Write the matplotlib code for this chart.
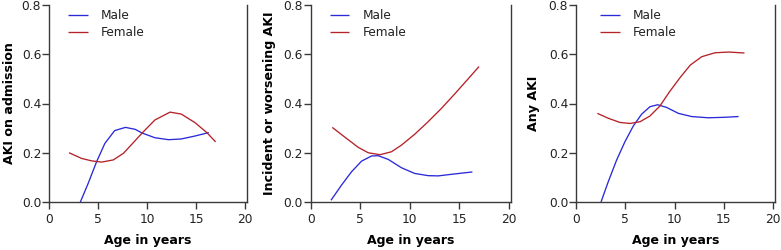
import matplotlib
matplotlib.use("Agg")
import matplotlib.pyplot as plt

plt.rcParams['font.family'] = ['DejaVu Sans']

# Panel 1: AKI on admission
p1_male_x = [3.2, 4.0, 4.86, 5.7, 6.7, 7.8, 8.8, 9.5, 10.8, 12.2, 13.5, 14.9, 16.3]
p1_male_y = [0.0, 0.076, 0.164, 0.238, 0.29, 0.303, 0.295, 0.28, 0.261, 0.253, 0.256, 0.268, 0.282]
p1_female_x = [2.04, 3.33, 4.35, 5.37, 6.57, 7.6, 8.6, 9.5, 10.8, 12.35, 13.5, 14.9, 16.1, 17.0]
p1_female_y = [0.2, 0.177, 0.167, 0.162, 0.171, 0.198, 0.241, 0.28, 0.333, 0.365, 0.357, 0.322, 0.282, 0.244]

# Panel 2: Incident or worsening AKI
p2_male_x = [2.05, 3.12, 4.13, 5.14, 6.15, 6.82, 7.83, 9.17, 10.5, 11.86, 12.87, 14.55, 16.33]
p2_male_y = [0.007, 0.069, 0.123, 0.166, 0.187, 0.188, 0.173, 0.139, 0.116, 0.107, 0.106, 0.114, 0.122]
p2_female_x = [2.18, 3.46, 4.8, 5.81, 6.99, 8.16, 9.17, 10.5, 11.86, 13.2, 14.55, 15.9, 17.0]
p2_female_y = [0.303, 0.263, 0.222, 0.2, 0.192, 0.204, 0.231, 0.275, 0.326, 0.38, 0.439, 0.5, 0.55]

# Panel 3: Any AKI
p3_male_x = [2.54, 3.28, 4.13, 4.97, 5.82, 6.67, 7.51, 8.29, 9.2, 10.39, 11.74, 13.43, 15.1, 16.5]
p3_male_y = [0.0, 0.083, 0.171, 0.245, 0.309, 0.357, 0.387, 0.395, 0.384, 0.36, 0.347, 0.342, 0.344, 0.347]
p3_female_x = [2.17, 3.28, 4.47, 5.48, 6.5, 7.5, 8.5, 9.5, 10.56, 11.6, 12.76, 14.1, 15.5, 17.1]
p3_female_y = [0.36, 0.34, 0.323, 0.319, 0.326, 0.349, 0.389, 0.448, 0.505, 0.556, 0.59, 0.606, 0.609, 0.605]

ylabels = ["AKI on admission", "Incident or worsening AKI", "Any AKI"]
xlabel = "Age in years"
series_labels = ["Male", "Female"]
xticks = [0, 5, 10, 15, 20]
yticks = [0.0, 0.2, 0.4, 0.6, 0.8]

panels = [
    (p1_male_x, p1_male_y, p1_female_x, p1_female_y),
    (p2_male_x, p2_male_y, p2_female_x, p2_female_y),
    (p3_male_x, p3_male_y, p3_female_x, p3_female_y),
]

W, H = 781, 250
fig = plt.figure(figsize=(W / 100, H / 100), dpi=100)

# axes rects in pixels: left, width
rects = [(49, 198), (310.7, 200), (576, 199)]
legend_off = [17, 17, 22]
ylab_x = [16.5, 276, 540]
bottom_px = 202
top_px = 5

blue = '#2a2ad8'
red = '#b52228'
spine_col = '#3a3a3a'

for i, (mx, my, fx, fy) in enumerate(panels):
    left, width = rects[i]
    ax = fig.add_axes([left / W, (H - bottom_px) / H, width / W, (bottom_px - top_px) / H])
    ax.plot(mx, my, color=blue, lw=0.95, label=series_labels[0],
            solid_joinstyle='round', solid_capstyle='butt')
    ax.plot(fx, fy, color=red, lw=0.95, label=series_labels[1],
            solid_joinstyle='round', solid_capstyle='butt')
    ax.set_xlim(0, 20.2)
    ax.set_ylim(0, 0.8)
    ax.set_xticks(xticks)
    ax.set_yticks(yticks)
    ax.set_yticklabels([f"{v:.1f}" for v in yticks])
    ax.spines['top'].set_visible(False)
    for s in ['left', 'bottom', 'right']:
        ax.spines[s].set_color(spine_col)
        ax.spines[s].set_linewidth(1.0)
    ax.tick_params(axis='both', direction='out', length=5, width=1.0, color=spine_col,
                   labelsize=8.8, labelcolor='#222222')
    ax.tick_params(axis='x', pad=3.0)
    ax.tick_params(axis='y', pad=0.6, right=False)
    ax.set_xlabel(xlabel, fontsize=9.0, fontweight='bold', labelpad=5.5)
    ax.set_ylabel(ylabels[i], fontsize=9.1, fontweight='bold')
    ax.yaxis.set_label_coords((ylab_x[i] - left) / width, 0.5)
    leg = ax.legend(loc='upper left', frameon=False, fontsize=8.7,
                    bbox_to_anchor=(legend_off[i] / width, 0.99),
                    borderpad=0.15, borderaxespad=0, handlelength=1.65,
                    handletextpad=1.07, labelspacing=0.36)
    for t in leg.get_texts():
        t.set_color('#222222')

fig.savefig("out.png", dpi=100)
